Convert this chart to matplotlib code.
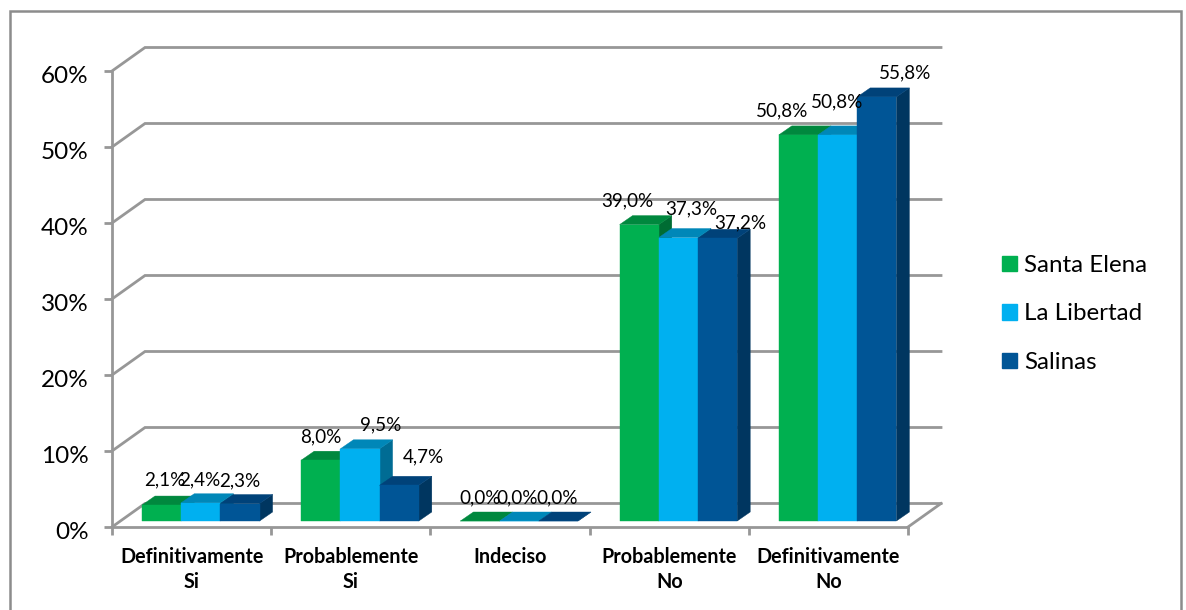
import matplotlib
matplotlib.use("Agg")
import matplotlib.pyplot as plt
from matplotlib.patches import Polygon, Patch, Rectangle
from matplotlib.transforms import ScaledTranslation

plt.rcParams['font.family'] = ['Lato', 'DejaVu Sans']

categories = ["Definitivamente\nSi", "Probablemente\nSi", "Indeciso", "Probablemente\nNo", "Definitivamente\nNo"]
santa_elena = [2.1, 8.0, 0.0, 39.0, 50.8]
la_libertad = [2.4, 9.5, 0.0, 37.3, 50.8]
salinas = [2.3, 4.7, 0.0, 37.2, 55.8]
series_names = ["Santa Elena", "La Libertad", "Salinas"]
y_ticks = [0, 10, 20, 30, 40, 50, 60]

# front, top, side shade of each series
shades = [("#00B050", "#00883E", "#006C33"),
          ("#00B0F0", "#0087B8", "#006C94"),
          ("#005596", "#004279", "#003660")]

# label offsets from the top centre of each bar, in pixels (hand placed like the original)
label_dx = [[3, 0, 0, -12, -16], [-1, 21, -2, 13, 0], [0, 24, -1, 23, 28]]
label_dy = [[25, 23, 23, 24, 24], [23, 24, 23, 29, 33], [23, 28, 23, 15, 24]]

W, H = 1186, 610
fig = plt.figure(figsize=(W / 100, H / 100), dpi=100, facecolor="white")

# the axes is the front plane of the 3d box
left, right, bottom, top = 112, 908, 527, 71
ax = fig.add_axes([left / W, 1 - bottom / H, (right - left) / W, (bottom - top) / H])
ax.set_xlim(0, 5)
ax.set_ylim(0, 60)
ax.patch.set_visible(False)

px_x = 5 / (right - left)
px_y = 60 / (bottom - top)
grid_col = "#979797"

# back wall and side wall
depth_x, depth_y = 33 * px_x, 23.5 * px_y
for v in y_ticks:
    ax.plot([0, depth_x, 5 + depth_x], [v, v + depth_y, v + depth_y], color=grid_col, lw=2,
            clip_on=False, zorder=1, solid_joinstyle="miter")
ax.plot([5, 5 + depth_x], [0, depth_y], color=grid_col, lw=2, clip_on=False, zorder=1)

# bars with fake depth
bar_w = 39.2 * px_x
bar_dx, bar_dy = 13 * px_x, 9 * px_y
base_dy = 6 * px_y
first_x = 30 * px_x
all_series = [santa_elena, la_libertad, salinas]
for i in range(len(categories)):
    for s, values in enumerate(all_series):
        x0 = i + first_x + s * bar_w
        x1 = x0 + bar_w
        y0 = base_dy
        y1 = base_dy + values[i]
        front, top_col, side = shades[s]
        z = 3 + i + s * 0.1
        ax.add_patch(Polygon([(x1, y0), (x1 + bar_dx, y0 + bar_dy), (x1 + bar_dx, y1 + bar_dy), (x1, y1)],
                             closed=True, fc=side, ec=side, lw=0.3, zorder=z, clip_on=False))
        ax.add_patch(Polygon([(x0, y1), (x1, y1), (x1 + bar_dx, y1 + bar_dy), (x0 + bar_dx, y1 + bar_dy)],
                             closed=True, fc=top_col, ec=top_col, lw=0.3, zorder=z, clip_on=False))
        ax.add_patch(Rectangle((x0, y0), bar_w, values[i], fc=front, ec=front, lw=0.3, zorder=z, clip_on=False))
        ax.annotate(f"{values[i]:.1f}%".replace(".", ","), (x0 + bar_w / 2, y1),
                    xytext=(label_dx[s][i] * 0.72, label_dy[s][i] * 0.72), textcoords="offset points",
                    ha="center", va="center", fontsize=13.6, color="#000000", zorder=20,
                    annotation_clip=False)

# axes lines and ticks
for name in ["top", "right"]:
    ax.spines[name].set_visible(False)
for name in ["left", "bottom"]:
    ax.spines[name].set_color(grid_col)
    ax.spines[name].set_linewidth(2)
    ax.spines[name].set_zorder(2)
ax.set_yticks(y_ticks)
ax.set_yticklabels([f"{v}%" for v in y_ticks], fontsize=17.5, color="#000000", va="center_baseline")
ax.set_xticks(range(6))
ax.set_xticklabels([])
ax.tick_params(axis="both", color=grid_col, width=2, length=6)
ax.tick_params(axis="y", pad=11)
# y labels sit a little under their ticks in the original
shift = ScaledTranslation(0, -2.5 / 72, fig.dpi_scale_trans)
for lab in ax.get_yticklabels():
    lab.set_transform(lab.get_transform() + shift)

for i, name in enumerate(categories):
    ax.text(i + 0.5, -20 * px_y, name, ha="center", va="top", fontsize=14.2, fontweight="bold",
            color="#000000", linespacing=1.3, clip_on=False)

# legend
handles = [Patch(fc=shades[s][0], ec=shades[s][0], label=series_names[s]) for s in range(3)]
fig.legend(handles=handles, loc="center left", bbox_to_anchor=(990 / W, 1 - 314 / H), frameon=False,
           fontsize=17.4, handlelength=0.62, handleheight=0.62, handletextpad=0.3, labelspacing=1.14,
           labelcolor="#000000", borderpad=0, borderaxespad=0.5)

# chart frame, runs off the bottom of the picture
fig.add_artist(Rectangle((9.5 / W, -0.02), (1181 - 9.5) / W, 1.02 - 10.5 / H, transform=fig.transFigure,
                         fc="none", ec="#8C8C8C", lw=1.8))

fig.savefig("out.png", dpi=100, facecolor="white")
